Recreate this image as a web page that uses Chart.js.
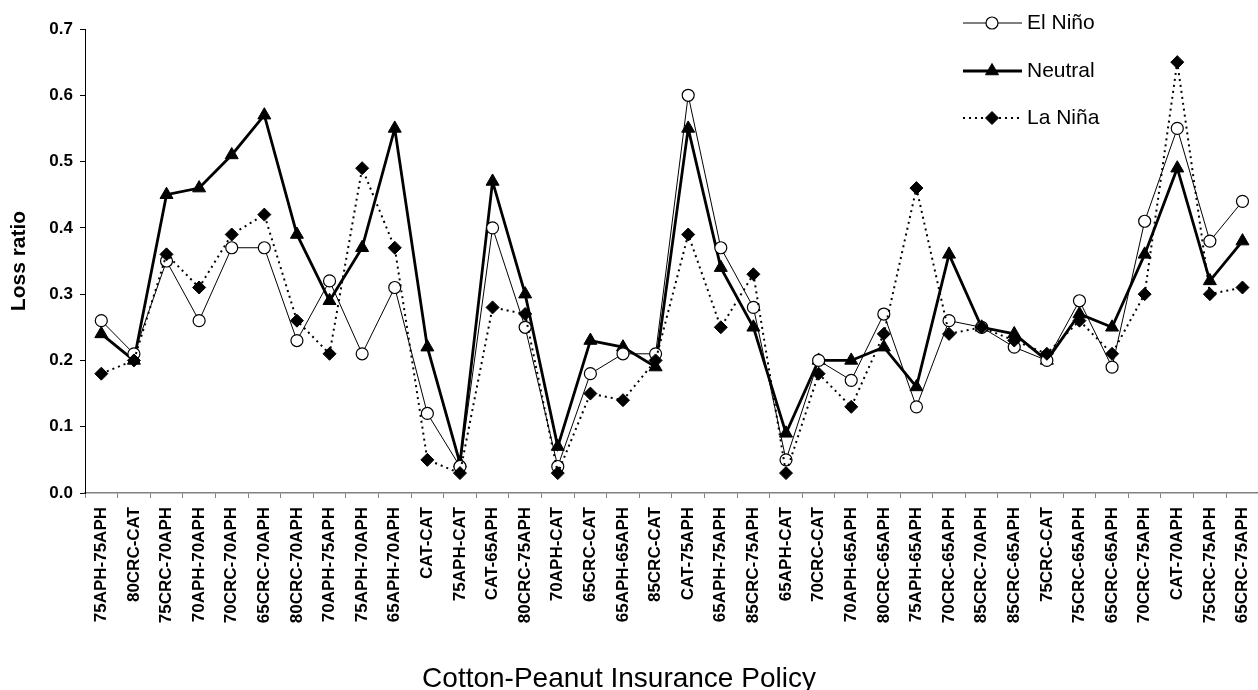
<!DOCTYPE html>
<html>
<head>
<meta charset="utf-8">
<script src="https://cdn.jsdelivr.net/npm/chart.js@4.4.1/dist/chart.umd.min.js"></script>
<style>
  html, body { margin: 0; padding: 0; overflow: hidden; background: #fff; }
  #wrap { width: 1272px; height: 690px; }
</style>
</head>
<body>
<div id="wrap"><canvas id="grafico" width="1272" height="690"></canvas></div>
<script>
// Datos
const politicas = [
  '75APH-75APH', '80CRC-CAT', '75CRC-70APH', '70APH-70APH', '70CRC-70APH', '65CRC-70APH',
  '80CRC-70APH', '70APH-75APH', '75APH-70APH', '65APH-70APH', 'CAT-CAT', '75APH-CAT',
  'CAT-65APH', '80CRC-75APH', '70APH-CAT', '65CRC-CAT', '65APH-65APH', '85CRC-CAT',
  'CAT-75APH', '65APH-75APH', '85CRC-75APH', '65APH-CAT', '70CRC-CAT', '70APH-65APH',
  '80CRC-65APH', '75APH-65APH', '70CRC-65APH', '85CRC-70APH', '85CRC-65APH', '75CRC-CAT',
  '75CRC-65APH', '65CRC-65APH', '70CRC-75APH', 'CAT-70APH', '75CRC-75APH', '65CRC-75APH'
];
const elNino = [
  0.26, 0.21, 0.35, 0.26, 0.37, 0.37, 0.23, 0.32, 0.21, 0.31, 0.12, 0.04,
  0.40, 0.25, 0.04, 0.18, 0.21, 0.21, 0.60, 0.37, 0.28, 0.05, 0.20, 0.17,
  0.27, 0.13, 0.26, 0.25, 0.22, 0.20, 0.29, 0.19, 0.41, 0.55, 0.38, 0.44
];
const neutral = [
  0.24, 0.20, 0.45, 0.46, 0.51, 0.57, 0.39, 0.29, 0.37, 0.55, 0.22, 0.045,
  0.47, 0.30, 0.07, 0.23, 0.22, 0.19, 0.55, 0.34, 0.25, 0.09, 0.20, 0.20,
  0.22, 0.16, 0.36, 0.25, 0.24, 0.20, 0.27, 0.25, 0.36, 0.49, 0.32, 0.38
];
const laNina = [
  0.18, 0.20, 0.36, 0.31, 0.39, 0.42, 0.26, 0.21, 0.49, 0.37, 0.05, 0.03,
  0.28, 0.27, 0.03, 0.15, 0.14, 0.20, 0.39, 0.25, 0.33, 0.03, 0.18, 0.13,
  0.24, 0.46, 0.24, 0.25, 0.23, 0.21, 0.26, 0.21, 0.30, 0.65, 0.30, 0.31
];
const ticksY = [0, 0.1, 0.2, 0.3, 0.4, 0.5, 0.6, 0.7];

const FUENTE = "Arial, 'Liberation Sans', sans-serif";

// Leyenda vertical dibujada a mano (arriba a la derecha)
const leyendaPlugin = {
  id: 'leyenda',
  afterDraw(chart) {
    const ctx = chart.ctx;
    const ys = [23, 71, 118];
    chart.data.datasets.forEach((ds, i) => {
      const y = ys[i];
      ctx.save();
      ctx.strokeStyle = '#000';
      ctx.lineWidth = ds.borderWidth;
      ctx.setLineDash(ds.borderDash || []);
      ctx.beginPath();
      ctx.moveTo(963, y);
      ctx.lineTo(1022, y);
      ctx.stroke();
      ctx.setLineDash([]);
      ctx.fillStyle = ds.pointBackgroundColor;
      ctx.strokeStyle = '#000';
      ctx.lineWidth = ds.pointBorderWidth;
      Chart.helpers.drawPoint(ctx, {
        pointStyle: ds.pointStyle, radius: ds.pointRadius, rotation: 0, borderWidth: ds.pointBorderWidth
      }, 992, y);
      ctx.fillStyle = '#000';
      ctx.font = '21px ' + FUENTE;
      ctx.textBaseline = 'middle';
      ctx.textAlign = 'left';
      ctx.fillText(ds.label, 1027, y);
      ctx.restore();
    });

    // titulo del eje x
    ctx.save();
    ctx.fillStyle = '#000';
    ctx.font = '28px ' + FUENTE;
    ctx.textAlign = 'center';
    ctx.textBaseline = 'alphabetic';
    ctx.fillText('Cotton-Peanut Insurance Policy', 619, 687);
    ctx.restore();
  }
};

const ctx = document.getElementById('grafico').getContext('2d');

new Chart(ctx, {
  type: 'line',
  data: {
    labels: politicas,
    datasets: [
      {
        label: 'El Niño',
        data: elNino,
        borderColor: '#000',
        borderWidth: 1,
        pointStyle: 'circle',
        pointRadius: 6,
        pointBackgroundColor: '#fff',
        pointBorderColor: '#000',
        pointBorderWidth: 1.2,
        tension: 0,
        order: 1
      },
      {
        label: 'Neutral',
        data: neutral,
        borderColor: '#000',
        borderWidth: 2.8,
        pointStyle: 'triangle',
        pointRadius: 7.5,
        pointBackgroundColor: '#000',
        pointBorderColor: '#000',
        pointBorderWidth: 1,
        tension: 0,
        order: 2
      },
      {
        label: 'La Niña',
        data: laNina,
        borderColor: '#000',
        borderWidth: 2,
        borderDash: [2, 4],
        pointStyle: 'rectRot',
        pointRadius: 6.5,
        pointBackgroundColor: '#000',
        pointBorderColor: '#000',
        pointBorderWidth: 1,
        tension: 0,
        order: 0
      }
    ]
  },
  options: {
    responsive: false,
    animation: false,
    devicePixelRatio: 1,
    layout: { padding: { top: 29, right: 6.5, bottom: 0, left: 0 } },
    plugins: {
      legend: { display: false },
      tooltip: { enabled: false }
    },
    scales: {
      x: {
        type: 'category',
        offset: true,
        grid: {
          offset: true,
          drawOnChartArea: false,
          drawTicks: true,
          tickLength: 5,
          color: '#808080'
        },
        border: { color: '#808080', width: 1.5 },
        ticks: {
          autoSkip: false,
          maxRotation: 90,
          minRotation: 90,
          padding: 9,
          color: '#000',
          font: { family: FUENTE, size: 17, weight: 'bold' }
        },
        afterFit: (scale) => { scale.height = 197; }
      },
      y: {
        min: 0,
        max: 0.7,
        afterBuildTicks: (scale) => { scale.ticks = ticksY.map(v => ({ value: v })); },
        grid: {
          drawOnChartArea: false,
          drawTicks: true,
          tickLength: 5,
          color: '#000'
        },
        border: { color: '#000', width: 1 },
        ticks: {
          padding: 7,
          color: '#000',
          font: { family: FUENTE, size: 17, weight: 'bold' },
          callback: (v) => Number(v).toFixed(1)
        },
        title: {
          display: true,
          text: 'Loss ratio',
          color: '#000',
          font: { family: FUENTE, size: 21, weight: 'bold' },
          padding: { top: 7, bottom: 0 }
        },
        afterFit: (scale) => { scale.width = 85; }
      }
    }
  },
  plugins: [leyendaPlugin]
});
</script>
</body>
</html>
